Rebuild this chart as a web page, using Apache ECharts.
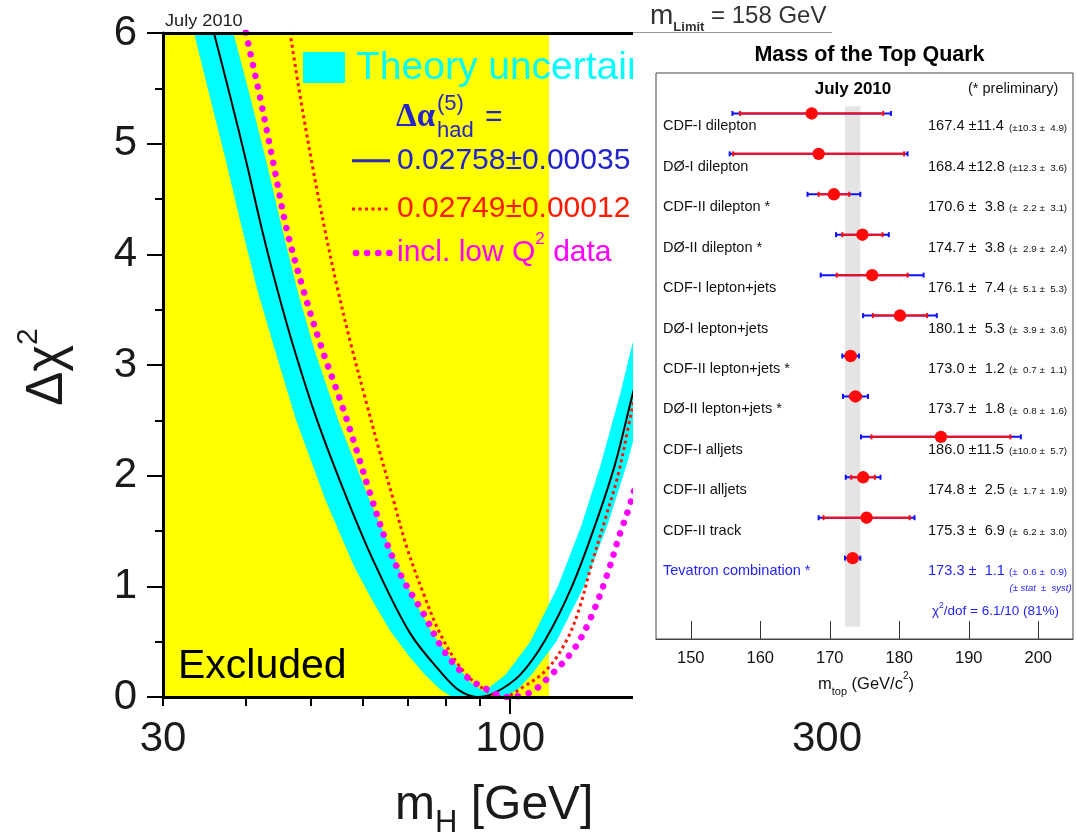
<!DOCTYPE html>
<html>
<head>
<meta charset="utf-8">
<script src="https://cdn.jsdelivr.net/npm/echarts@6.0.0/dist/echarts.min.js"></script>
<style>
  html, body { margin: 0; padding: 0; background: #fff; }
  #chart { width: 1077px; height: 837px; }
</style>
</head>
<body>
<div id="chart"></div>
<script>
// ---------- Δχ² versus m_H (electroweak fit, July 2010) ----------
// points are [m_H in GeV, Δχ²]
const mhTickLabels = [30, 100, 300];
const mhMajorTicks = [100];
const mhMinorTicks = [30, 40, 50, 60, 70, 80, 90, 200, 300, 400];
const lepExcludedBelow = 114.4;

const fitCentral = [
  [34.8, 6.3], [35.8, 6.0], [37.9, 5.42], [40.1, 4.82], [42.3, 4.22], [44.6, 3.68],
  [47.3, 3.14], [51.2, 2.5], [56.9, 1.78], [62.8, 1.18], [70.7, 0.575], [78.9, 0.214],
  [83.8, 0.06], [89.2, 0.0], [94.9, 0.04], [103.5, 0.2], [112.8, 0.51], [123.9, 1.0],
  [134.2, 1.55], [143.8, 2.1], [153.1, 2.75], [165.2, 3.5], [180.2, 4.5]
];
const fitAlpha2749 = [
  [45.7, 6.3], [46.6, 6.0], [48.3, 5.42], [50.3, 4.82], [52.6, 4.22], [55.0, 3.68],
  [57.6, 3.18], [60.6, 2.68], [63.5, 2.23], [66.7, 1.78], [69.8, 1.36], [74.0, 0.937],
  [78.4, 0.575], [84.0, 0.274], [90.1, 0.093], [97.5, 0.0], [104.6, 0.09], [113.6, 0.25],
  [121.8, 0.52], [127.4, 0.82], [131.9, 1.15], [138.9, 1.6], [145.3, 2.0], [150.5, 2.43],
  [156.9, 2.95], [168.1, 3.8]
];
const fitLowQ2 = [
  [39.1, 6.3], [40.0, 6.0], [42.0, 5.42], [44.0, 4.82], [46.1, 4.22], [48.8, 3.68],
  [51.7, 3.2], [55.7, 2.65], [58.7, 2.23], [61.5, 1.84], [65.2, 1.39], [69.0, 1.06],
  [74.0, 0.756], [79.3, 0.425], [86.0, 0.183], [92.7, 0.063], [98.9, 0.0], [107.1, 0.04],
  [114.8, 0.19], [124.5, 0.425], [131.9, 0.70], [139.7, 1.09], [146.4, 1.48], [150.6, 1.69],
  [159.6, 2.2], [174.0, 3.0]
];
// theory band: lower envelope (left edge, floor, right edge) and upper envelope
const bandOuter = [
  [33.4, 6.0], [35.3, 5.42], [37.4, 4.82], [39.5, 4.22], [41.6, 3.68], [44.2, 3.14],
  [47.6, 2.5], [52.7, 1.78], [58.2, 1.18], [61.9, 0.88], [65.9, 0.6], [70.2, 0.38],
  [74.4, 0.2], [78.4, 0.07], [81.7, 0.0], [98.2, 0.0], [102.7, 0.07], [107.7, 0.2],
  [117.3, 0.5], [129.2, 1.0], [140.1, 1.55], [149.8, 2.1], [160.4, 2.75], [172.1, 3.5],
  [186.9, 4.5]
];
const bandInner = [
  [38.3, 6.0], [40.6, 5.42], [43.0, 4.82], [45.4, 4.22], [47.8, 3.68], [50.7, 3.14],
  [55.1, 2.5], [61.4, 1.78], [67.8, 1.18], [71.9, 0.86], [76.3, 0.575], [82.6, 0.3],
  [87.6, 0.12], [91.3, 0.05], [98.4, 0.2], [107.2, 0.5], [118.0, 1.0], [128.0, 1.55],
  [136.9, 2.1], [146.6, 2.75], [157.2, 3.5], [170.8, 4.5]
];

// ---------- Tevatron top-quark mass summary ----------
const topLabels = [
  'CDF-I dilepton', 'DØ-I dilepton', 'CDF-II dilepton *', 'DØ-II dilepton *',
  'CDF-I lepton+jets', 'DØ-I lepton+jets', 'CDF-II lepton+jets *', 'DØ-II lepton+jets *',
  'CDF-I alljets', 'CDF-II alljets', 'CDF-II track', 'Tevatron combination *'
];
const topMass  = [167.4, 168.4, 170.6, 174.7, 176.1, 180.1, 173.0, 173.7, 186.0, 174.8, 175.3, 173.3];
const topTotal = [11.4, 12.8, 3.8, 3.8, 7.4, 5.3, 1.2, 1.8, 11.5, 2.5, 6.9, 1.1];
const topStat  = [10.3, 12.3, 2.2, 2.9, 5.1, 3.9, 0.7, 0.8, 10.0, 1.7, 6.2, 0.6];
const topSyst  = [4.9, 3.6, 3.1, 2.4, 5.3, 3.6, 1.1, 1.6, 5.7, 1.9, 3.0, 0.9];
const topTicks = [150, 160, 170, 180, 190, 200];

// ---------- drawing ----------
const SANS = '"Liberation Sans", Arial, Helvetica, sans-serif';
const lg = Math.log10;
const toLog = pts => pts.map(p => [lg(p[0]), p[1]]);
const mhFmt = v => String(Math.round(Math.pow(10, v)));
const pad = v => { const s = v.toFixed(1); return s.length < 4 ? '\u2007' + s : s; };
const COMBO = topMass.length - 1;
const BLUE_TXT = '#1f1fff';

const chart = echarts.init(document.getElementById('chart'), null, { width: 1077, height: 837 });

const leftX = { gridIndex: 0, type: 'value', min: lg(30), max: lg(500), z: 10 };

const option = {
  animation: false,
  backgroundColor: '#ffffff',
  grid: [
    { left: 163, top: 33, width: 811.3, height: 664, show: false },
    { left: 656, top: 73, width: 417, height: 566, show: true, z: 108,
      borderColor: '#444', borderWidth: 1, backgroundColor: 'transparent' }
  ],
  xAxis: [
    Object.assign({}, leftX, {
      position: 'bottom',
      axisLine: { onZero: false, lineStyle: { color: '#000', width: 3 } },
      axisTick: { customValues: mhMajorTicks.map(lg), length: 17, lineStyle: { color: '#000', width: 2 } },
      axisLabel: { customValues: mhTickLabels.map(lg), formatter: mhFmt, fontSize: 42,
                   fontFamily: SANS, color: '#1a1a1a', margin: 21 },
      splitLine: { show: false }
    }),
    Object.assign({}, leftX, {
      position: 'bottom', offset: 0,
      axisLine: { show: false, onZero: false },
      axisTick: { customValues: mhMinorTicks.map(lg), length: 9, lineStyle: { color: '#000', width: 2 } },
      axisLabel: { show: false },
      splitLine: { show: false }
    }),
    Object.assign({}, leftX, {
      position: 'top', offset: 0,
      axisLine: { onZero: false, lineStyle: { color: '#000', width: 3 } },
      axisTick: { show: false }, axisLabel: { show: false }, splitLine: { show: false }
    }),
    {
      gridIndex: 1, type: 'value', min: 145, max: 205, z: 110, position: 'bottom',
      axisLine: { onZero: false, lineStyle: { color: '#444', width: 1 } },
      axisTick: { customValues: topTicks, inside: true, length: 18, lineStyle: { color: '#333', width: 1 } },
      axisLabel: { customValues: topTicks, fontSize: 16.5, fontFamily: SANS, color: '#111', margin: 11 },
      splitLine: { show: false }
    }
  ],
  yAxis: [
    {
      gridIndex: 0, type: 'value', min: 0, max: 6, interval: 1, z: 10,
      axisLine: { onZero: false, lineStyle: { color: '#000', width: 3 } },
      axisTick: { length: 16, lineStyle: { color: '#000', width: 2 } },
      minorTick: { show: true, splitNumber: 2, length: 8, lineStyle: { color: '#000', width: 2 } },
      axisLabel: { fontSize: 42, fontFamily: SANS, color: '#1a1a1a', margin: 26 },
      splitLine: { show: false }, minorSplitLine: { show: false }
    },
    { gridIndex: 1, type: 'value', min: -1, max: 13, inverse: true, show: false }
  ],
  series: [
    { // LEP direct-search exclusion
      type: 'custom', xAxisIndex: 0, yAxisIndex: 0, z: 1, silent: true,
      data: [[lg(30), 0, lg(lepExcludedBelow), 6]],
      renderItem: (params, api) => {
        const p0 = api.coord([api.value(0), api.value(1)]);
        const p1 = api.coord([api.value(2), api.value(3)]);
        return { type: 'rect', shape: { x: p0[0], y: p1[1], width: p1[0] - p0[0], height: p0[1] - p1[1] },
                 style: { fill: '#ffff00' } };
      }
    },
    { // theory uncertainty band
      type: 'custom', xAxisIndex: 0, yAxisIndex: 0, z: 2, silent: true,
      data: [[lg(30), 0]],
      renderItem: (params, api) => {
        const pts = toLog(bandOuter).concat(toLog(bandInner).reverse()).map(p => api.coord(p));
        return { type: 'polygon', shape: { points: pts }, style: { fill: '#00ffff' } };
      }
    },
    {
      type: 'line', xAxisIndex: 0, yAxisIndex: 0, z: 3, data: toLog(fitCentral),
      showSymbol: false, smooth: 0.35, clip: true, silent: true,
      lineStyle: { color: '#000', width: 2 }
    },
    {
      type: 'line', xAxisIndex: 0, yAxisIndex: 0, z: 4, data: toLog(fitAlpha2749),
      showSymbol: false, smooth: 0.35, clip: true, silent: true,
      lineStyle: { color: '#ff1500', width: 3, type: [3, 3.5] }
    },
    {
      type: 'line', xAxisIndex: 0, yAxisIndex: 0, z: 5, data: toLog(fitLowQ2),
      showSymbol: false, smooth: 0.35, clip: true, silent: true,
      lineStyle: { color: '#ff00ff', width: 6.5, type: [0.1, 11], cap: 'round' }
    },
    { // Tevatron combination band
      type: 'custom', xAxisIndex: 3, yAxisIndex: 1, z: 105, silent: true,
      data: [[topMass[COMBO], 0]],
      renderItem: (params, api) => {
        const a = api.coord([topMass[COMBO] - topTotal[COMBO], -0.18]);
        const b = api.coord([topMass[COMBO] + topTotal[COMBO], 12.7]);
        return { type: 'rect', shape: { x: a[0], y: a[1], width: b[0] - a[0], height: b[1] - a[1] },
                 style: { fill: '#e4e4e4' } };
      }
    },
    { // measurements with stat (red) and total (blue) errors
      type: 'custom', xAxisIndex: 3, yAxisIndex: 1, z: 110, silent: true,
      data: topMass.map((m, i) => [m, i]),
      renderItem: (params, api) => {
        const i = params.dataIndex;
        const m = api.value(0), row = api.value(1);
        const c = api.coord([m, row]);
        const tl = api.coord([m - topTotal[i], row])[0], th = api.coord([m + topTotal[i], row])[0];
        const sl = api.coord([m - topStat[i], row])[0], sh = api.coord([m + topStat[i], row])[0];
        const y = c[1];
        const gx = api.coord([145, row])[0];
        const blue = '#1010ff', red = '#ff0a0a', cap = 2.5;
        const txtCol = i === COMBO ? BLUE_TXT : '#111';
        const seg = (x1, y1, x2, y2, col) => ({ type: 'line', shape: { x1, y1, x2, y2 },
                                                 style: { stroke: col, lineWidth: 2 } });
        return {
          type: 'group',
          children: [
            seg(tl, y, th, y, blue),
            seg(tl, y - cap, tl, y + cap, blue),
            seg(th, y - cap, th, y + cap, blue),
            seg(sl, y, sh, y, red),
            seg(sl, y - cap, sl, y + cap, red),
            seg(sh, y - cap, sh, y + cap, red),
            { type: 'circle', shape: { cx: c[0], cy: y, r: 6.2 }, style: { fill: red } },
            { type: 'text', x: gx + 7, y: y + 13,
              style: { text: topLabels[i], fill: txtCol, fontSize: 14.5, fontFamily: SANS,
                       align: 'left', verticalAlign: 'middle' } },
            { type: 'text', x: gx + 272, y: y + 13,
              style: { text: m.toFixed(1) + ' \u00b1' + pad(topTotal[i]), fill: txtCol, fontSize: 14.6,
                       fontFamily: SANS, align: 'left', verticalAlign: 'middle' } },
            { type: 'text', x: gx + 353, y: y + 14.5,
              style: { text: '(\u00b1' + pad(topStat[i]) + ' \u00b1' + pad(topSyst[i]) + ')', fill: txtCol,
                       fontSize: 9.8, fontFamily: SANS, align: 'left', verticalAlign: 'middle' } }
          ]
        };
      }
    }
  ],
  graphic: [
    // labels of the Δχ² panel
    { type: 'text', x: 165, y: 21, z: 50, scaleX: 1.1,
      style: { text: 'July 2010', fontSize: 16.5, fontFamily: SANS, fill: '#222', verticalAlign: 'middle' } },
    { type: 'rect', shape: { x: 303, y: 52, width: 42, height: 31 }, z: 50, style: { fill: '#00ffff' } },
    { type: 'text', x: 356, y: 68.5, z: 50,
      style: { text: 'Theory uncertainty', fontSize: 39, fontFamily: SANS, fill: '#00ffff', verticalAlign: 'middle' } },
    { type: 'text', x: 396, y: 117, z: 50,
      style: { text: '\u0394\u03b1', fontSize: 33, fontWeight: 'bold', fontFamily: '"Liberation Serif", serif',
               fill: '#2626c8', verticalAlign: 'middle' } },
    { type: 'text', x: 437, y: 104, z: 50,
      style: { text: '(5)', fontSize: 22, fontFamily: SANS, fill: '#2626c8', verticalAlign: 'middle' } },
    { type: 'text', x: 437, y: 131, z: 50,
      style: { text: 'had', fontSize: 22, fontFamily: SANS, fill: '#2626c8', verticalAlign: 'middle' } },
    { type: 'text', x: 485, y: 118, z: 50,
      style: { text: '=', fontSize: 30, fontFamily: SANS, fill: '#2626c8', verticalAlign: 'middle' } },
    { type: 'line', shape: { x1: 352, y1: 160.7, x2: 390, y2: 160.7 }, z: 50,
      style: { stroke: '#2b2bb5', lineWidth: 3 } },
    { type: 'text', x: 397, y: 161, z: 50,
      style: { text: '0.02758\u00b10.00035', fontSize: 30, fontFamily: SANS, fill: '#2323cc', verticalAlign: 'middle' } },
    { type: 'line', shape: { x1: 352, y1: 209, x2: 391, y2: 209 }, z: 50,
      style: { stroke: '#ff1500', lineWidth: 3, lineDash: [3, 3.5] } },
    { type: 'text', x: 397, y: 209, z: 50,
      style: { text: '0.02749\u00b10.00012', fontSize: 30, fontFamily: SANS, fill: '#ff1a00', verticalAlign: 'middle' } },
    { type: 'line', shape: { x1: 356, y1: 253, x2: 392, y2: 253 }, z: 50,
      style: { stroke: '#ff00ff', lineWidth: 6.5, lineDash: [0.1, 11], lineCap: 'round' } },
    { type: 'text', x: 397, y: 253, z: 50,
      style: { text: '{a|incl. low Q}{b|2}{a| data}', fontFamily: SANS, fill: '#ff00ff', verticalAlign: 'middle',
               rich: { a: { fontSize: 30, fill: '#ff00ff', lineHeight: 44, fontFamily: SANS },
                       b: { fontSize: 17, fill: '#ff00ff', lineHeight: 17, verticalAlign: 'top', fontFamily: SANS } } } },
    { type: 'text', x: 178, y: 667, z: 50,
      style: { text: 'Excluded', fontSize: 41, fontFamily: SANS, fill: '#000', verticalAlign: 'middle' } },
    { type: 'text', x: 395, y: 806, z: 50,
      style: { text: '{a|m}{b|H}{a| [GeV]}', fontFamily: SANS, fill: '#1a1a1a', verticalAlign: 'middle',
               rich: { a: { fontSize: 48, lineHeight: 66, fill: '#1a1a1a', fontFamily: SANS },
                       b: { fontSize: 31, lineHeight: 31, verticalAlign: 'bottom', fill: '#1a1a1a', fontFamily: SANS } } } },
    { type: 'text', x: 48, y: 367, rotation: Math.PI / 2, z: 50,
      style: { text: '{a|\u0394\u03c7}{b|2}', fontFamily: SANS, fill: '#1a1a1a', align: 'center', verticalAlign: 'middle',
               rich: { a: { fontSize: 51, lineHeight: 68, fill: '#1a1a1a', fontFamily: SANS },
                       b: { fontSize: 30, lineHeight: 30, verticalAlign: 'top', fill: '#1a1a1a', fontFamily: SANS } } } },

    // white panel holding the top-mass summary
    { type: 'rect', shape: { x: 633, y: 0, width: 444, height: 709 }, z: 100, style: { fill: '#ffffff' } },
    { type: 'text', x: 650, y: 16.5, z: 110,
      style: { text: '{a|m}{b|Limit}{c| = 158 GeV}', fontFamily: SANS, fill: '#333', verticalAlign: 'middle',
               rich: { a: { fontSize: 28, lineHeight: 34, fill: '#333', fontFamily: SANS },
                       b: { fontSize: 13, lineHeight: 12, verticalAlign: 'bottom', fontWeight: 'bold', fill: '#333', fontFamily: SANS },
                       c: { fontSize: 24, lineHeight: 34, fill: '#333', fontFamily: SANS } } } },
    { type: 'line', shape: { x1: 633, y1: 32.5, x2: 832, y2: 32.5 }, z: 110,
      style: { stroke: '#999', lineWidth: 1 } },
    { type: 'text', x: 869.5, y: 55, z: 110,
      style: { text: 'Mass of the Top Quark', fontSize: 21.5, fontWeight: 'bold', fontFamily: SANS, fill: '#000',
               align: 'center', verticalAlign: 'middle' } },
    { type: 'text', x: 853, y: 89, z: 110,
      style: { text: 'July 2010', fontSize: 17, fontWeight: 'bold', fontFamily: SANS, fill: '#000',
               align: 'center', verticalAlign: 'middle' } },
    { type: 'text', x: 968, y: 89, z: 110,
      style: { text: '(* preliminary)', fontSize: 14.5, fontFamily: SANS, fill: '#111', verticalAlign: 'middle' } },
    { type: 'text', x: 1009.5, y: 588, z: 110,
      style: { text: '(\u00b1 stat  \u00b1  syst)', fontSize: 9.5, fontStyle: 'italic', fontFamily: SANS,
               fill: BLUE_TXT, verticalAlign: 'middle' } },
    { type: 'text', x: 932, y: 611, z: 110,
      style: { text: '{a|\u03c7}{b|2}{a|/dof = 6.1/10 (81%)}', fontFamily: SANS, fill: BLUE_TXT, verticalAlign: 'middle',
               rich: { a: { fontSize: 13.5, lineHeight: 20, fill: BLUE_TXT, fontFamily: SANS },
                       b: { fontSize: 8.5, lineHeight: 8.5, verticalAlign: 'top', fill: BLUE_TXT, fontFamily: SANS } } } },
    { type: 'text', x: 866, y: 684, z: 110,
      style: { text: '{a|m}{b|top}{a| (GeV/c}{c|2}{a|)}', fontFamily: SANS, fill: '#111', align: 'center', verticalAlign: 'middle',
               rich: { a: { fontSize: 16.5, lineHeight: 26, fill: '#111', fontFamily: SANS },
                       b: { fontSize: 11, lineHeight: 11, verticalAlign: 'bottom', fill: '#111', fontFamily: SANS },
                       c: { fontSize: 10, lineHeight: 10, verticalAlign: 'top', fill: '#111', fontFamily: SANS } } } }
  ]
};

chart.setOption(option);
</script>
</body>
</html>
